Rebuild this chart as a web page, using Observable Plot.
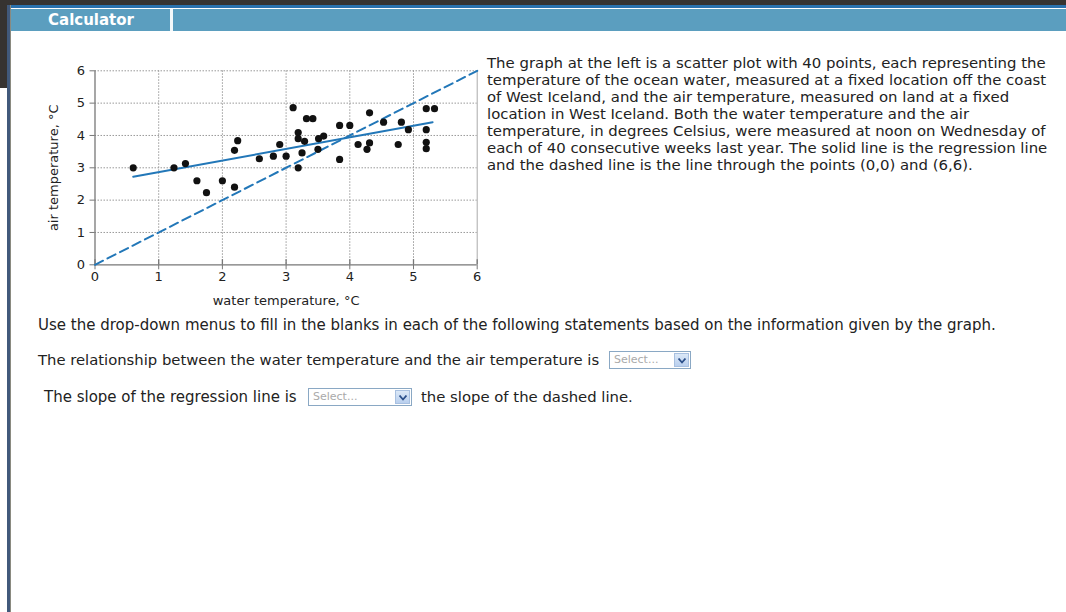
<!DOCTYPE html>
<html>
<head>
<meta charset="utf-8">
<script src="https://cdn.jsdelivr.net/npm/d3@7"></script>
<script src="https://cdn.jsdelivr.net/npm/@observablehq/plot@0.6"></script>
<style>
  html, body { margin: 0; padding: 0; background: #fff; }
  body { width: 1066px; height: 612px; position: relative; overflow: hidden; font-family: "DejaVu Sans", Verdana, sans-serif; color: #222; }
  .abs { position: absolute; }
  .sel { position: absolute; height: 18px; border: 1px solid #8aa8c4; background: #fff; box-sizing: border-box; font-size: 11px; color: #aaa; line-height: 16px; padding-left: 4px; font-family: "DejaVu Sans", sans-serif; }
  .sel .btn { position: absolute; right: 1px; top: 1px; width: 15px; height: 14px; background: linear-gradient(#dbe8f7, #b9cfee); border: 1px solid #a8c0e0; box-sizing: border-box; }
  .sel .btn svg { position: absolute; left: 3px; top: 4px; }
  .q { position: absolute; font-size: 15px; color: #222; white-space: nowrap; }
</style>
</head>
<body>
<div class="abs" style="left:0;top:0;width:1066px;height:6px;background:#363331"></div>
<div class="abs" style="left:0;top:0;width:8px;height:88px;background:#363331"></div>
<div class="abs" style="left:7px;top:5px;width:1059px;height:3px;background:#2b72ae"></div>
<div class="abs" style="left:7px;top:5px;width:3px;height:607px;background:#41597b"></div>
<div class="abs" style="left:10px;top:5px;width:1px;height:607px;background:#8a8a80"></div>
<div class="abs" style="left:11px;top:9px;width:1055px;height:22px;background:#5b9ebf"></div>
<div class="abs" style="left:170px;top:9px;width:3px;height:22px;background:#f4f8fa"></div>
<div class="abs" style="left:48px;top:10px;font-size:15px;font-weight:bold;color:#fff;line-height:20px;">Calculator</div>

<div id="chart" class="abs" style="left:20px;top:55px;"></div>

<div class="abs" id="desc" style="left:487px;top:55px;font-size:14.9px;line-height:17px;color:#222;white-space:nowrap;"></div>

<div class="q" style="left:38px;top:316px;">Use the drop-down menus to fill in the blanks in each of the following statements based on the information given by the graph.</div>
<div class="q" style="left:38px;top:351px;font-size:14.8px;">The relationship between the water temperature and the air temperature is</div>
<div class="sel" style="left:609px;top:351px;width:82px;">Select...<div class="btn"><svg width="8" height="6"><path d="M0.5 0.5 L4 4.5 L7.5 0.5" fill="none" stroke="#2b4f8a" stroke-width="1.8"/></svg></div></div>
<div class="q" style="left:44px;top:388px;">The slope of the regression line is</div>
<div class="sel" style="left:308px;top:388px;width:104px;">Select...<div class="btn"><svg width="8" height="6"><path d="M0.5 0.5 L4 4.5 L7.5 0.5" fill="none" stroke="#2b4f8a" stroke-width="1.8"/></svg></div></div>
<div class="q" style="left:421px;top:388px;font-size:14.85px;">the slope of the dashed line.</div>

<script>
// ---- data ----
const waterTemp = [0.6, 1.24, 1.42, 1.6, 1.75, 2.0, 2.19, 2.24, 2.19, 2.58, 2.8, 2.9,
  3.0, 3.11, 3.19, 3.19, 3.29, 3.19, 3.25, 3.32, 3.42, 3.51, 3.59, 3.5,
  3.84, 4.0, 3.84, 4.13, 4.31, 4.31, 4.27, 4.53, 4.76, 4.81, 4.92,
  5.2, 5.33, 5.2, 5.2, 5.2];
const airTemp = [3.0, 3.0, 3.13, 2.6, 2.23, 2.6, 3.54, 3.84, 2.4, 3.28, 3.36, 3.72,
  3.36, 4.86, 4.09, 3.9, 3.82, 3.0, 3.46, 4.52, 4.52, 3.9, 3.98, 3.57,
  4.31, 4.31, 3.26, 3.72, 4.7, 3.77, 3.57, 4.41, 3.72, 4.41, 4.18,
  4.83, 4.83, 4.18, 3.79, 3.59];
const regressionX = [0.6, 5.3];
const regressionY = [2.72, 4.41];
const diagonalX = [0, 6];
const diagonalY = [0, 6];
const xTicks = [0, 1, 2, 3, 4, 5, 6];
const yTicks = [0, 1, 2, 3, 4, 5, 6];
const xLabel = "water temperature, °C";
const yLabel = "air temperature, °C";
const descLines = [
  "The graph at the left is a scatter plot with 40 points, each representing the",
  "temperature of the ocean water, measured at a fixed location off the coast",
  "of West Iceland, and the air temperature, measured on land at a fixed",
  "location in West Iceland. Both the water temperature and the air",
  "temperature, in degrees Celsius, were measured at noon on Wednesday of",
  "each of 40 consecutive weeks last year. The solid line is the regression line",
  "and the dashed line is the line through the points (0,0) and (6,6)."
];

document.getElementById("desc").innerHTML = descLines.map(s => `<div>${s}</div>`).join("");

const points = waterTemp.map((x, i) => ({x, y: airTemp[i]}));
const regression = regressionX.map((x, i) => ({x, y: regressionY[i]}));
const diagonal = diagonalX.map((x, i) => ({x, y: diagonalY[i]}));

const lineColor = "#2277b8";

const plot = Plot.plot({
  width: 470,
  height: 260,
  marginLeft: 74.5,
  marginRight: 13.3,
  marginTop: 15.3,
  marginBottom: 50.7,
  x: {domain: [0, 6]},
  y: {domain: [0, 6]},
  style: {fontFamily: "'DejaVu Sans', Verdana, sans-serif", fontSize: "13px", color: "#222", background: "transparent"},
  marks: [
    Plot.gridX(xTicks.filter(d => d > 0 && d < 6), {stroke: "#999", strokeOpacity: 1, strokeDasharray: "1.5,1.5"}),
    Plot.gridY(yTicks.filter(d => d > 0), {stroke: "#999", strokeOpacity: 1, strokeDasharray: "1.5,1.5"}),
    Plot.ruleX([6], {y1: 0, y2: 6, stroke: "#aaa"}),
    Plot.ruleY([0], {stroke: "#777", strokeWidth: 1.3}),
    Plot.ruleX([0], {y1: 0, y2: 6, stroke: "#777", strokeWidth: 1.3}),
    Plot.ruleX(xTicks, {y1: 0, y2: 0.16, stroke: "#777", strokeWidth: 1.3}),
    Plot.axisX(xTicks, {tickSize: 5, stroke: "#777", tickPadding: 2, fontSize: 13, label: xLabel, labelAnchor: "center", labelArrow: "none", labelOffset: 40, fill: "#222"}),
    Plot.axisY(yTicks, {tickSize: 5, stroke: "#777", tickPadding: 5, fontSize: 13, label: yLabel, labelAnchor: "center", labelArrow: "none", labelOffset: 46, fill: "#222"}),
    Plot.line(diagonal, {x: "x", y: "y", stroke: lineColor, strokeWidth: 2, strokeDasharray: "9,5"}),
    Plot.line(regression, {x: "x", y: "y", stroke: lineColor, strokeWidth: 2}),
    Plot.dot(points, {x: "x", y: "y", r: 3.6, fill: "#111", stroke: "none"})
  ]
});
document.getElementById("chart").appendChild(plot);
</script>
</body>
</html>
